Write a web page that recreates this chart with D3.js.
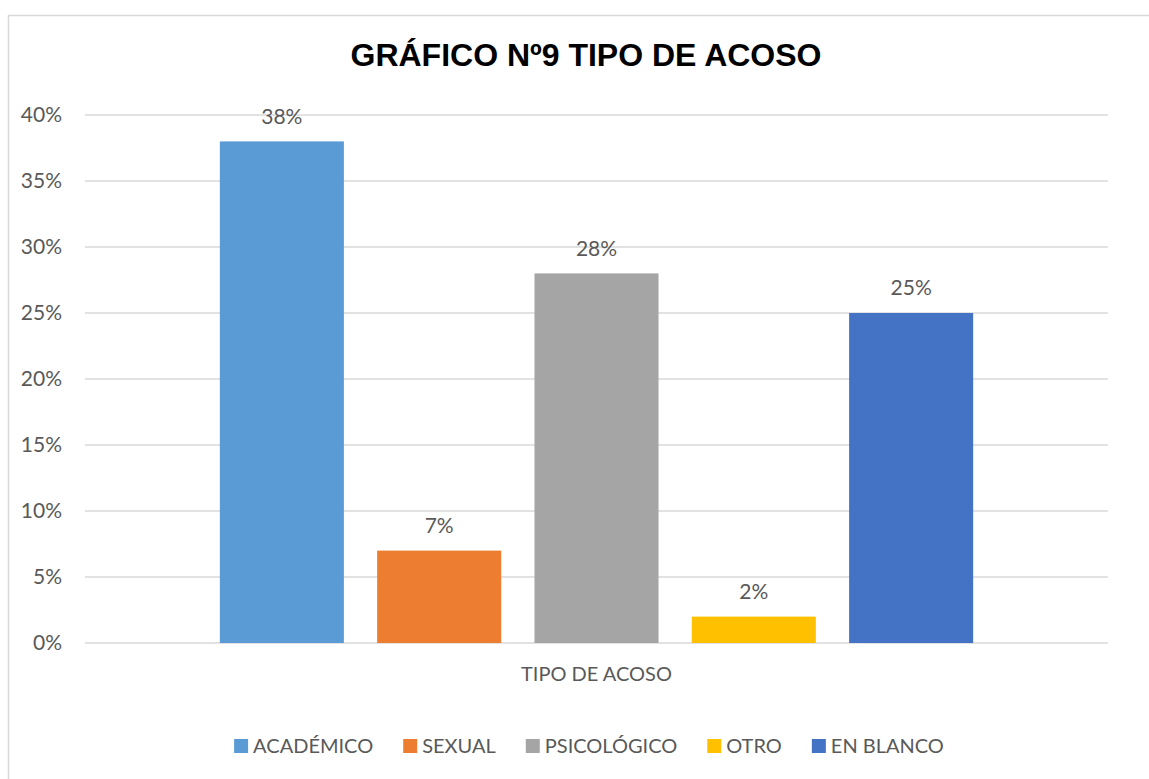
<!DOCTYPE html>
<html>
<head>
<meta charset="utf-8">
<script src="https://cdn.jsdelivr.net/npm/d3@7"></script>
<style>
  body { margin: 0; background: #fff; }
  text { font-family: Lato, "Open Sans", sans-serif; fill: #595959; }
</style>
</head>
<body>
<div id="chart"></div>
<script>
// data
const category = ["TIPO DE ACOSO"];
const series = ["ACADÉMICO", "SEXUAL", "PSICOLÓGICO", "OTRO", "EN BLANCO"];
const values = [0.38, 0.07, 0.28, 0.02, 0.25];
const colors = ["#5B9BD5", "#ED7D31", "#A5A5A5", "#FFC000", "#4472C4"];
const yTicks = [0, 0.05, 0.10, 0.15, 0.20, 0.25, 0.30, 0.35, 0.40];
const title = "GRÁFICO Nº9 TIPO DE ACOSO";

const svgWidth = 1149;
const svgHeight = 779;
const margin = { top: 115, right: 41, bottom: 136, left: 85 };
const chartWidth = svgWidth - margin.left - margin.right;
const chartHeight = svgHeight - margin.top - margin.bottom;

const svg = d3.select("#chart")
    .append("svg")
    .attr("width", svgWidth)
    .attr("height", svgHeight);

// outer frame of the chart
svg.append("rect")
    .attr("x", 8.5)
    .attr("y", 15.5)
    .attr("width", 1200)
    .attr("height", 800)
    .attr("fill", "none")
    .attr("stroke", "#D9D9D9")
    .attr("stroke-width", 1.5);

svg.append("text")
    .attr("x", 586)
    .attr("y", 55)
    .attr("dy", "0.35em")
    .style("text-anchor", "middle")
    .style("font-family", "'Liberation Sans', Arial, sans-serif")
    .style("font-weight", "bold")
    .style("font-size", "32px")
    .style("fill", "#000")
    .text(title);

const chart = svg.append("g")
    .attr("transform", `translate(${margin.left},${margin.top})`);

const yScale = d3.scaleLinear()
    .domain([0, 0.40])
    .range([chartHeight, 0]);

const x0 = d3.scaleBand()
    .domain(category)
    .range([0, chartWidth])
    .paddingOuter(0.179);

const x1 = d3.scaleBand()
    .domain(series)
    .range([0, x0.bandwidth()])
    .paddingInner(0.2115);

// gridlines
chart.selectAll(".grid")
    .data(yTicks)
    .enter()
    .append("line")
    .attr("class", "grid")
    .attr("x1", 0)
    .attr("x2", chartWidth)
    .attr("y1", d => yScale(d))
    .attr("y2", d => yScale(d))
    .attr("stroke", "#D9D9D9")
    .attr("stroke-width", 1.5);

// y axis labels
const yAxis = chart.append("g")
    .call(d3.axisLeft(yScale).tickValues(yTicks).tickFormat(d3.format(".0%")).tickSize(0).tickPadding(23));
yAxis.select(".domain").remove();
yAxis.selectAll("text")
    .style("font-family", "Lato, sans-serif")
    .style("font-size", "21px")
    .attr("fill", "#595959");

const group = chart.append("g")
    .attr("transform", `translate(${x0(category[0])},0)`);

group.selectAll(".bar")
    .data(values)
    .enter()
    .append("rect")
    .attr("class", "bar")
    .attr("x", (d, i) => x1(series[i]))
    .attr("y", d => yScale(d))
    .attr("width", x1.bandwidth())
    .attr("height", d => chartHeight - yScale(d))
    .style("fill", (d, i) => colors[i]);

group.selectAll(".label")
    .data(values)
    .enter()
    .append("text")
    .attr("class", "label")
    .attr("x", (d, i) => x1(series[i]) + x1.bandwidth() / 2)
    .attr("y", d => yScale(d) - 25)
    .attr("dy", "0.35em")
    .style("text-anchor", "middle")
    .style("font-size", "21px")
    .text(d => d3.format(".0%")(d));

// category axis label
chart.append("text")
    .attr("x", x0(category[0]) + x0.bandwidth() / 2)
    .attr("y", chartHeight + 31)
    .attr("dy", "0.35em")
    .style("text-anchor", "middle")
    .style("font-size", "20px")
    .text(category[0]);

// legend
const legend = svg.append("g");
const items = legend.selectAll(".legend")
    .data(series)
    .enter()
    .append("g")
    .attr("class", "legend");

items.append("rect")
    .attr("width", 14)
    .attr("height", 14)
    .attr("y", -7)
    .attr("fill", (d, i) => colors[i]);

items.append("text")
    .attr("x", 19)
    .attr("dy", "0.35em")
    .style("font-size", "20px")
    .text(d => d);

let pos = 0;
items.each(function() {
    d3.select(this).attr("transform", `translate(${pos},0)`);
    pos += 19 + this.querySelector("text").getComputedTextLength() + 30;
});
const legendWidth = pos - 30;
legend.attr("transform", `translate(${589 - legendWidth / 2},746)`);
</script>
</body>
</html>
